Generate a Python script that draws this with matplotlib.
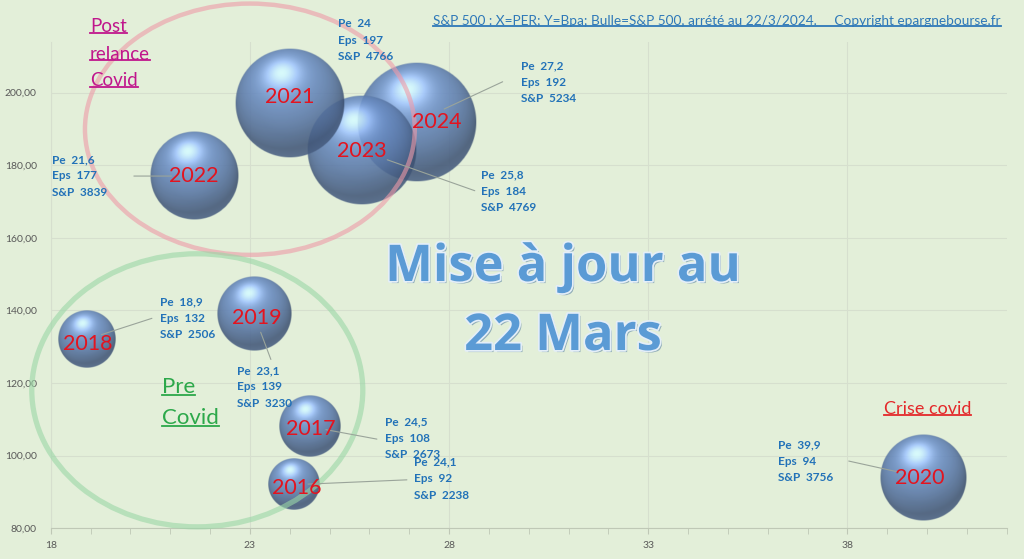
import numpy as np
import matplotlib.pyplot as plt
import matplotlib.patheffects as pe
from matplotlib.patches import Ellipse
from matplotlib.lines import Line2D
from matplotlib.ticker import MultipleLocator, FuncFormatter

# S&P 500 par annee : PER (x), BPA (y), niveau de l'indice (taille de bulle)
years = ['2016', '2017', '2018', '2019', '2020', '2021', '2022', '2023', '2024']
per = [24.1, 24.5, 18.9, 23.1, 39.9, 24, 21.6, 25.8, 27.2]
eps = [92, 108, 132, 139, 94, 197, 177, 184, 192]
spx = [2238, 2673, 2506, 3230, 3756, 4766, 3839, 4769, 5234]
xticks = [18, 23, 28, 33, 38]

# layout of the data labels, in pixels from the bubble centre (dx right, dy down)
label_off = [(120, -28), (75, -10), (73, -43), (-17, 51), (-145, -38),
             (48, -85), (-142, -22), (120, 19), (104, -61)]
leader_off = [(116, -5), (70, 13), (68, -22), (18, 48), (-77, -17),
              None, (-63, 0), (116, 41), (88, -41)]
year_off = [(3, 3), (1, 2), (1, 5), (3, 4), (-3, 1), (0, -6), (0, 0), (0, 0), (20, 0)]

W, H = 1024, 559
BG = '#e3efd9'
plt.rcParams['font.family'] = ['Lato', 'DejaVu Sans']

fig = plt.figure(figsize=(W / 100, H / 100), dpi=100, facecolor=BG)
ax = fig.add_axes([50.7 / W, 1 - 528.3 / H, 956 / W, 486.6 / H], facecolor=BG)


def px(x, y):
    # figure pixel (from top-left) -> figure fraction
    return x / W, 1 - y / H


def fmt(v):
    return ('%g' % v).replace('.', ',')


def sphere_rgba(n=160, alpha=0.88):
    u = np.linspace(-1, 1, n)
    uu, vv = np.meshgrid(u, u)
    d = np.sqrt(uu ** 2 + vv ** 2)
    z = np.sqrt(np.clip(1 - d ** 2, 0, 1))
    L = np.array([-0.15, 0.55, 0.82])
    L = L / np.linalg.norm(L)
    diff = np.clip(uu * L[0] + vv * L[1] + z * L[2], 0, 1)
    base = np.array([0.42, 0.56, 0.78])
    col = base[None, None, :] * (0.55 + 0.5 * diff[..., None])
    spec = 0.40 * diff ** 18
    col = col + spec[..., None]
    # soft reflection at the bottom rim
    rim = np.clip(-vv, 0, 1) * np.clip(d - 0.6, 0, 1) * 0.25
    col = col + rim[..., None] * np.array([0.6, 0.7, 0.9])
    col = np.clip(col, 0, 1)
    a = np.clip((1 - d) * n * 0.5, 0, 1) * alpha
    return np.dstack([col, a])


XMIN, XMAX, YMIN, YMAX = 18, 42, 80, 214
ax.set_xlim(XMIN, XMAX)
ax.set_ylim(YMIN, YMAX)

# bubble radius in pixels proportional to the index level ("size = width")
k = 60 / 5234
img = sphere_rgba()
sx = 956 / (XMAX - XMIN)
sy = 486.6 / (YMAX - YMIN)
order = np.argsort(spx)[::-1]
for i in order:
    r = spx[i] * k
    ax.imshow(img, extent=(per[i] - r / sx, per[i] + r / sx, eps[i] - r / sy, eps[i] + r / sy),
              origin='lower', aspect='auto', zorder=3, interpolation='bilinear')

ax.set_xlim(XMIN, XMAX)
ax.set_ylim(YMIN, YMAX)

# ellipses
ax.add_patch(Ellipse((23.0, 189.9), 8.28, 69.2, fill=False, ec='#ee9aa8', lw=3.2,
                     alpha=0.6, zorder=4, clip_on=False))
ax.add_patch(Ellipse((21.68, 118.0), 8.31, 75.2, fill=False, ec='#9ad6a6', lw=3.8,
                     alpha=0.6, zorder=4, clip_on=False))

# year labels, data labels and leader lines
for i, y in enumerate(years):
    r = spx[i] * k
    ax.annotate(y, (per[i], eps[i]), xytext=(year_off[i][0], -year_off[i][1]),
                textcoords='offset pixels', ha='center', va='center',
                fontsize=15.5, color='#e3141f', zorder=6)
    lab = 'Pe  %s\nEps  %d\nS&P  %d' % (fmt(per[i]), eps[i], spx[i])
    ax.annotate(lab, (per[i], eps[i]), xytext=(label_off[i][0], -label_off[i][1]),
                textcoords='offset pixels', ha='left', va='top', fontsize=8.5,
                fontweight='bold', color='#2272b8', linespacing=1.6, zorder=6)
    if leader_off[i] is not None:
        dx, dy = leader_off[i]
        n = np.hypot(dx, dy)
        ex, ey = 0.45 * r * dx / n, 0.45 * r * dy / n
        ax.annotate('', (per[i] + ex / sx, eps[i] - ey / sy),
                    xytext=(per[i] + dx / sx, eps[i] - dy / sy),
                    arrowprops=dict(arrowstyle='-', color='#9aa49a', lw=0.8), zorder=5)

# axes styling
ax.set_xticks(xticks)
ax.xaxis.set_minor_locator(MultipleLocator(1))
ax.yaxis.set_major_locator(MultipleLocator(20))
ax.yaxis.set_major_formatter(FuncFormatter(lambda v, p: ('%.2f' % v).replace('.', ',')))
ax.grid(True, which='major', color='#d6dfce', lw=0.8)
ax.set_axisbelow(True)
for s in ['top', 'right']:
    ax.spines[s].set_visible(False)
ax.spines['left'].set_color('#d6dfce')
ax.spines['bottom'].set_color('#bfc8b6')
ax.tick_params(axis='x', which='both', direction='out', length=4, color='#bfc8b6',
               labelsize=7.5, labelcolor='#595959', pad=5)
ax.tick_params(axis='y', length=0, labelsize=7.5, labelcolor='#595959', pad=10)

# free texts
texts = []
for line, y in zip(['Post', 'relance', 'Covid'], [27, 54, 81]):
    texts.append(fig.text(*px(90, y), line, fontsize=13.5, color='#c0168c', va='center'))
for line, y in zip(['Pre', 'Covid'], [387, 418]):
    texts.append(fig.text(*px(162, y), line, fontsize=16, color='#2ca84a', va='center'))
texts.append(fig.text(*px(884, 409), 'Crise covid', fontsize=13, color='#e3282a', va='center'))
texts.append(fig.text(*px(433, 21), 'S&P 500 : X=PER; Y=Bpa; Bulle=S&P 500, arrété au 22/3/2024.     '
                      'Copyright epargnebourse.fr', fontsize=9.85, color='#2e78b8', va='center'))

big = dict(fontsize=36.5, fontweight='bold', color='#5b9bd5', ha='center', va='center',
           family=['Open Sans', 'DejaVu Sans'],
           path_effects=[pe.withSimplePatchShadow(offset=(1.5, -1.5), shadow_rgbFace='#2f5f8f', alpha=0.45),
                         pe.Stroke(linewidth=2.5, foreground='#e4eef8'), pe.Normal()])
fig.text(*px(563, 268), 'Mise à jour au', **big)
fig.text(*px(563, 337), '22 Mars', **big)

# underline the free texts
fig.canvas.draw()
rend = fig.canvas.get_renderer()
for t in texts:
    bb = t.get_window_extent(rend)
    yl = bb.y0 + 0.12 * bb.height
    fig.add_artist(Line2D([bb.x0 / W, bb.x1 / W], [yl / H, yl / H], transform=fig.transFigure,
                          color=t.get_color(), lw=1.3))

fig.savefig('out.png', dpi=100, facecolor=BG)
